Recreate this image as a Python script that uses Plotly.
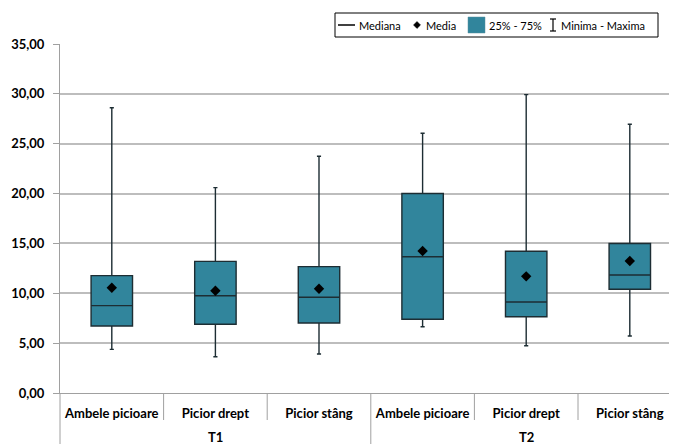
import plotly.graph_objects as go

# ---- data ----
groups = ["T1", "T2"]
categories = ["Ambele picioare", "Picior drept", "Picior stâng",
              "Ambele picioare", "Picior drept", "Picior stâng"]
q1_vals = [6.72, 6.89, 7.02, 7.39, 7.65, 10.40]
median_vals = [8.76, 9.76, 9.60, 13.67, 9.13, 11.83]
q3_vals = [11.77, 13.20, 12.67, 20.00, 14.21, 15.00]
min_vals = [4.38, 3.64, 3.91, 6.65, 4.74, 5.72]
max_vals = [28.60, 20.60, 23.74, 26.05, 29.92, 26.95]
mean_vals = [10.56, 10.26, 10.46, 14.24, 11.70, 13.24]
y_ticks = [0, 5, 10, 15, 20, 25, 30, 35]

# ---- geometry (page pixels; the page body has an 8px margin) ----
OFF = 8
W, H = 677 - OFF, 444 - OFF
PLOT_L, PLOT_R, PLOT_T, PLOT_B = 60, 677, 44, 393   # page pixels
ML, MR = PLOT_L - OFF, 0
MT, MB = PLOT_T - OFF, H - (PLOT_B - OFF)
PW, PH = W - ML - MR, H - MT - MB


def px(x):
    return (x - PLOT_L) / PW


def py(y):
    return (PLOT_B - y) / PH


FONT = "Lato"
teal = "#31859C"
edge = "#1d2d33"
grid = "#bdbdbd"
axis_gray = "#a0a0a0"

xpos = list(range(len(categories)))

fig = go.Figure()
fig.add_trace(go.Box(
    x=xpos, q1=q1_vals, median=median_vals, q3=q3_vals,
    lowerfence=min_vals, upperfence=max_vals,
    width=0.4, whiskerwidth=0.1,
    fillcolor=teal, line=dict(color=edge, width=1.4),
    boxpoints=False, showlegend=False, hoverinfo="skip",
))
fig.add_trace(go.Scatter(
    x=xpos, y=mean_vals, mode="markers",
    marker=dict(symbol="diamond", size=8, color="black"),
    showlegend=False, hoverinfo="skip",
))

shapes = []
# category separators
for b in [0.5, 1.5, 3.5, 4.5]:
    shapes.append(dict(type="line", xref="x", yref="paper", x0=b, x1=b,
                       y0=0, y1=py(420), line=dict(color=axis_gray, width=1)))
shapes.append(dict(type="line", xref="x", yref="paper", x0=2.5, x1=2.5,
                   y0=0, y1=py(444), line=dict(color=axis_gray, width=1)))
shapes.append(dict(type="line", xref="paper", yref="paper", x0=0, x1=0,
                   y0=0, y1=py(444), line=dict(color=axis_gray, width=1)))

# legend (manual)
shapes.append(dict(type="rect", xref="paper", yref="paper",
                   x0=px(335), x1=px(658), y0=py(37), y1=py(13),
                   line=dict(color="black", width=1), fillcolor="white"))
shapes.append(dict(type="line", xref="paper", yref="paper",
                   x0=px(338), x1=px(355), y0=py(25), y1=py(25),
                   line=dict(color="black", width=1.5)))
shapes.append(dict(type="path", xref="paper", yref="paper",
                   path="M %f,%f L %f,%f L %f,%f L %f,%f Z" % (
                       px(413.5), py(25), px(417), py(21.5),
                       px(420.5), py(25), px(417), py(28.5)),
                   fillcolor="black", line=dict(color="black", width=0.5)))
shapes.append(dict(type="rect", xref="paper", yref="paper",
                   x0=px(468), x1=px(485), y0=py(33), y1=py(17),
                   fillcolor=teal, line=dict(color="#5a8f9c", width=0.5)))
for (a, b, c, d) in [(553, 19, 553, 31), (550, 19, 556, 19), (550, 31, 556, 31)]:
    shapes.append(dict(type="line", xref="paper", yref="paper",
                       x0=px(a), x1=px(c), y0=py(b), y1=py(d),
                       line=dict(color="black", width=1.2)))

annotations = []
for txt, x in [("Mediana", 358), ("Media", 425), ("25% - 75%", 488),
               ("Minima - Maxima", 560)]:
    annotations.append(dict(text=txt, xref="paper", yref="paper",
                            x=px(x), y=py(25), xanchor="left", yanchor="middle",
                            showarrow=False, borderpad=0,
                            font=dict(family=FONT, size=11, color="black")))
for g, xc in zip(groups, [1, 4]):
    annotations.append(dict(text=g, xref="x", yref="paper", x=xc, y=py(437),
                            xanchor="center", yanchor="middle", showarrow=False,
                            font=dict(family=FONT, size=13, color="black",
                                      weight="bold")))

fig.update_layout(
    width=W, height=H,
    margin=dict(l=ML, r=MR, t=MT, b=MB, pad=0),
    paper_bgcolor="white", plot_bgcolor="white",
    separators=",.",
    showlegend=False,
    shapes=shapes, annotations=annotations,
    xaxis=dict(range=[-0.5, -0.5 + PW / 103.6], tickvals=xpos, ticktext=categories,
               showgrid=False, zeroline=False, showline=True,
               linecolor=axis_gray, linewidth=1, ticks="",
               tickfont=dict(family=FONT, size=13, color="black", weight="bold"),
               ticklabelstandoff=8),
    yaxis=dict(range=[0, 35], tickvals=y_ticks, tickformat=".2f",
               showgrid=True, gridcolor=grid, gridwidth=1.5,
               zeroline=False, showline=True, linecolor=axis_gray, linewidth=1,
               ticks="outside", ticklen=6, tickcolor=axis_gray,
               tickfont=dict(family=FONT, size=13, color="black", weight="bold"),
               ticklabelstandoff=6),
)

fig.write_html("out.html")
